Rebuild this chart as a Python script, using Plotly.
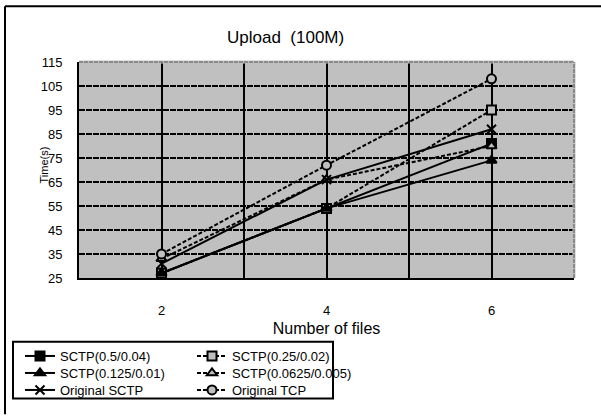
import plotly.graph_objects as go

# Upload time for 100M transfers vs. number of files
files = [2, 4, 6]
series_names = [
    "SCTP(0.5/0.04)", "SCTP(0.25/0.02)",
    "SCTP(0.125/0.01)", "SCTP(0.0625/0.005)",
    "Original SCTP", "Original TCP",
]
sctp_05 = [27, 54, 81]
sctp_025 = [27, 54, 95]
sctp_0125 = [27, 54, 74]
sctp_00625 = [33, 66, 80]
orig_sctp = [31, 66, 87]
orig_tcp = [35, 72, 108]

y_ticks = [25, 35, 45, 55, 65, 75, 85, 95, 105, 115]
x_grid = [1, 2, 3, 4, 5, 6, 7]
x_text = ["", "2", "", "4", "", "6", ""]

values = [sctp_05, sctp_025, sctp_0125, sctp_00625, orig_sctp, orig_tcp]
symbols = ["square", "square", "triangle-up", "triangle-up", "x-thin", "circle"]
dashed = [False, True, False, True, False, True]

BG = "#c0c0c0"
FONT = "Liberation Sans, Arial, sans-serif"

# plot-area pixel geometry
L, R, T, B = 79, 574, 62, 279
W, H = R - L, B - T
fw, fh = 601, 416


def px(x):
    return (x - L) / W


def py(y):
    return (B - y) / H


# legend laid out as a 2-column, 3-row key (one legend box per entry)
col_x = [20, 192]
row_y = [356, 373, 390]

fig = go.Figure()
legend_layout = {}
for i, (name, vals, sym, dsh) in enumerate(zip(series_names, values, symbols, dashed)):
    lg = "legend" if i == 0 else f"legend{i + 1}"
    fig.add_trace(go.Scatter(
        x=files, y=vals, name=name, mode="lines+markers",
        line=dict(color="black", width=2, dash="4px,2px" if dsh else "solid"),
        marker=dict(symbol=sym, size=9,
                    color=BG if dsh else "black",
                    line=dict(color="black", width=2)),
        legend=lg,
    ))
    legend_layout[lg] = dict(
        x=px(col_x[i % 2]), y=py(row_y[i // 2]),
        xanchor="left", yanchor="middle",
        bgcolor="rgba(0,0,0,0)", borderwidth=0,
        font=dict(size=13, family=FONT),
    )

fig.update_layout(
    width=fw, height=fh,
    margin=dict(l=L, r=fw - R, t=T, b=fh - B),
    paper_bgcolor="white", plot_bgcolor=BG,
    font=dict(family=FONT, color="black", size=13),
    showlegend=True,
    **legend_layout,
    xaxis=dict(
        range=[1, 7], tickvals=x_grid, ticktext=x_text,
        showgrid=True, gridcolor="black", gridwidth=2,
        showline=True, linecolor="black", linewidth=2,
        ticks="", ticklabelstandoff=19,
        tickfont=dict(size=13, family=FONT),
        title=dict(text="Number of files", standoff=6,
                   font=dict(size=16, family=FONT)),
        zeroline=False, automargin=False,
    ),
    yaxis=dict(
        range=[25, 115], tickvals=y_ticks,
        showgrid=True, gridcolor="black", gridwidth=2, griddash="6px,1px",
        showline=True, linecolor="black", linewidth=2,
        ticks="", ticklabelstandoff=12,
        tickfont=dict(size=13, family=FONT),
        zeroline=False, automargin=False,
    ),
    annotations=[
        dict(text="Upload\u00a0\u00a0(100M)", xref="paper", yref="paper",
             x=px(285), y=py(37), xanchor="center", yanchor="middle",
             showarrow=False, font=dict(size=17, family=FONT)),
        dict(text="Time(s)", xref="paper", yref="paper",
             x=px(44), y=py(166), xanchor="center", yanchor="middle",
             showarrow=False, textangle=-90,
             font=dict(size=11, family=FONT)),
    ],
    shapes=[
        # grey top and right frame of the plot area
        dict(type="line", xref="paper", yref="paper", x0=0, x1=1, y0=1, y1=1,
             line=dict(color=BG, width=3), layer="above"),
        dict(type="line", xref="paper", yref="paper", x0=0, x1=1, y0=1, y1=1,
             line=dict(color="#8a8a8a", width=2, dash="4px,1px"), layer="above"),
        dict(type="line", xref="paper", yref="paper", x0=1, x1=1, y0=0, y1=1,
             line=dict(color=BG, width=3), layer="above"),
        dict(type="line", xref="paper", yref="paper", x0=1, x1=1, y0=0, y1=1,
             line=dict(color="#8a8a8a", width=2, dash="4px,1px"), layer="above"),
        # legend frame
        dict(type="rect", xref="paper", yref="paper",
             x0=px(13), x1=px(333), y0=py(400), y1=py(343),
             line=dict(color="black", width=2), fillcolor="rgba(0,0,0,0)"),
        # outer chart frame (left and top edges)
        dict(type="line", xref="paper", yref="paper",
             x0=px(5), x1=px(5), y0=py(416), y1=py(6),
             line=dict(color="black", width=2)),
        dict(type="line", xref="paper", yref="paper",
             x0=px(5), x1=px(601), y0=py(6), y1=py(6),
             line=dict(color="black", width=2)),
    ],
)

fig.write_html("out.html")
